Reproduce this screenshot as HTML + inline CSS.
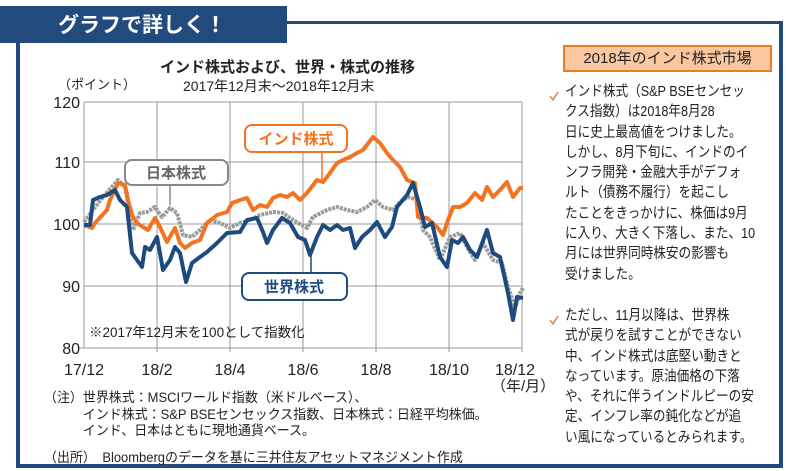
<!DOCTYPE html>
<html><head><meta charset="utf-8"><style>
body{margin:0;width:786px;height:471px;background:#fff;overflow:hidden;font-family:"Liberation Sans","Noto Sans CJK JP",sans-serif;}
.a{position:absolute;white-space:nowrap;color:#222;}
</style></head><body>
<div style="position:absolute;left:0;top:6px;width:287px;height:37px;background:#234a7c;"></div>
<div class="a" style="left:58px;top:9px;color:#fff;font-size:21px;font-weight:bold;">グラフで詳しく！</div>
<div style="position:absolute;left:287px;top:21px;width:496px;height:3px;background:#234a7c;"></div>
<div style="position:absolute;left:16px;top:43px;width:4px;height:425px;background:#234a7c;"></div>
<div style="position:absolute;left:779px;top:21px;width:4px;height:447px;background:#234a7c;"></div>
<div style="position:absolute;left:16px;top:464px;width:767px;height:4px;background:#234a7c;"></div>

<div class="a" style="left:160px;top:56px;font-size:15px;font-weight:bold;">インド株式および、世界・株式の推移</div>
<div class="a" style="left:183px;top:76px;font-size:14px;">2017年12月末～2018年12月末</div>
<div class="a" style="left:58px;top:74px;font-size:13px;">（ポイント）</div>

<svg style="position:absolute;left:0;top:0" width="786" height="471">
<g stroke="#999" stroke-width="1">
<line x1="84" y1="102" x2="522" y2="102"/><line x1="84" y1="162" x2="522" y2="162"/><line x1="84" y1="224" x2="522" y2="224"/><line x1="84" y1="286" x2="522" y2="286"/><line x1="78" y1="348" x2="522" y2="348"/>
<line x1="84" y1="102" x2="84" y2="348"/><line x1="157" y1="102" x2="157" y2="352"/><line x1="230" y1="102" x2="230" y2="352"/><line x1="303" y1="102" x2="303" y2="352"/><line x1="376" y1="102" x2="376" y2="352"/><line x1="449" y1="102" x2="449" y2="352"/><line x1="522" y1="102" x2="522" y2="352"/>
</g>
<g fill="none" stroke-linejoin="round" stroke-width="4">
<polyline stroke="#9a9a9a" stroke-dasharray="3 1" points="84,222 93,210 103,197 118,180 125,187 133,230 140,213 147,212 155,207 162,217 170,208 177,213 183,235 192,237 200,230 210,220 220,223 230,228 240,223 250,220 260,215 273,212 283,213 293,220 307,228 313,217 327,210 337,207 347,210 357,212 367,207 375,200 383,207 393,210 400,202 408,197 417,200 423,230 430,237 440,260 450,237 460,233 467,247 475,260 483,243 493,260 502,263 508,287 515,308 520,293 523,288"/>
<polyline stroke="#f47321" points="84,225 92,228 95,223 107,210 110,200 118,183 125,185 128,200 132,215 137,223 143,227 148,230 155,218 160,227 167,242 172,233 175,228 180,243 185,248 192,243 200,240 207,223 217,215 227,212 232,203 240,200 247,198 253,210 260,205 267,207 273,198 280,195 287,197 293,193 300,200 307,193 317,180 323,182 330,173 337,163 343,160 350,157 357,153 363,150 373,137 380,143 387,153 393,160 400,167 407,180 415,183 418,217 427,218 437,227 443,235 448,220 453,207 460,207 467,203 475,193 482,200 487,187 493,197 500,190 507,182 513,197 520,188 523,188"/>
<polyline stroke="#1f4a7e" points="84,225 90,225 93,200 100,197 107,195 115,190 120,200 127,207 132,253 137,260 142,267 145,247 150,250 157,237 163,270 170,260 175,247 180,253 186,282 192,263 200,257 207,252 217,243 227,233 240,232 247,220 257,218 263,232 267,243 273,230 282,218 290,223 298,237 305,240 310,255 317,237 323,225 330,230 337,225 343,230 350,228 355,248 362,237 370,230 377,222 385,237 392,227 397,207 407,195 413,183 420,207 425,227 432,223 440,257 447,267 452,240 458,243 463,237 470,250 477,257 487,230 493,253 500,257 508,293 513,320 517,297 523,298"/>
</g>
<g stroke-width="1.5" fill="#fff">
<line x1="322" y1="152" x2="322" y2="180" stroke="#f47321"/>
<line x1="170" y1="185" x2="170" y2="205" stroke="#888"/>
<line x1="311" y1="255" x2="311" y2="273" stroke="#1f4a7e"/>
<rect x="245" y="125" width="102" height="27" rx="7" stroke="#f47321" stroke-width="2"/>
<rect x="125" y="160" width="103" height="25" rx="7" stroke="#888" stroke-width="2"/>
<rect x="242" y="273" width="105" height="27" rx="7" stroke="#1f4a7e" stroke-width="2"/>
</g>
<g font-family="Liberation Sans,Noto Sans CJK JP,sans-serif" font-weight="bold" font-size="15" text-anchor="middle">
<text x="296" y="144" fill="#f47321">インド株式</text>
<text x="176" y="178" fill="#666">日本株式</text>
<text x="294" y="292" fill="#1f4a7e">世界株式</text>
</g>
<g font-family="Liberation Sans,sans-serif" font-size="16" fill="#222" text-anchor="end">
<text x="80" y="108">120</text><text x="80" y="168">110</text><text x="80" y="230">100</text><text x="80" y="292">90</text><text x="80" y="354">80</text>
</g>
<g font-family="Liberation Sans,sans-serif" font-size="16" fill="#222" text-anchor="middle">
<text x="84" y="375">17/12</text><text x="157" y="375">18/2</text><text x="230" y="375">18/4</text><text x="303" y="375">18/6</text><text x="376" y="375">18/8</text><text x="449" y="375">18/10</text><text x="515" y="375">18/12</text>
</g>
<path d="M550 96 l3 4 l5 -8 M550 320 l3 4 l5 -8" stroke="#e07a3a" stroke-width="1.3" fill="none"/>
</svg>
<div class="a" style="left:89px;top:321px;font-size:13.5px;">※2017年12月末を100として指数化</div>
<div class="a" style="left:491px;top:375px;font-size:15px;">（年/月）</div>
<div class="a" style="left:44px;top:390px;font-size:13.5px;line-height:16.5px;transform:scaleX(0.96);transform-origin:left;">（注）世界株式：MSCIワールド指数（米ドルベース）、<br>　　　インド株式：S&amp;P BSEセンセックス指数、日本株式：日経平均株価。<br>　　　インド、日本はともに現地通貨ベース。</div>
<div class="a" style="left:44px;top:446px;font-size:13.5px;transform:scaleX(0.96);transform-origin:left;">（出所）　Bloombergのデータを基に三井住友アセットマネジメント作成</div>

<div style="position:absolute;left:563px;top:45px;width:205px;height:23px;background:#fbc7a0;border:2px solid #e67e22;"></div>
<div class="a" style="left:563px;top:47px;width:209px;text-align:center;font-size:15px;">2018年のインド株式市場</div>
<div class="a" style="left:565px;top:82px;font-size:14.5px;line-height:20.3px;transform:scaleX(0.87);transform-origin:left;">インド株式（S&amp;P BSEセンセッ<br>クス指数）は2018年8月28<br>日に史上最高値をつけました。<br>しかし、8月下旬に、インドのイ<br>ンフラ開発・金融大手がデフォ<br>ルト（債務不履行）を起こし<br>たことをきっかけに、株価は9月<br>に入り、大きく下落し、また、10<br>月には世界同時株安の影響も<br>受けました。</div>
<div class="a" style="left:565px;top:306px;font-size:14.5px;line-height:20.3px;transform:scaleX(0.87);transform-origin:left;">ただし、11月以降は、世界株<br>式が戻りを試すことができない<br>中、インド株式は底堅い動きと<br>なっています。原油価格の下落<br>や、それに伴うインドルピーの安<br>定、インフレ率の鈍化などが追<br>い風になっているとみられます。</div>
</body></html>
